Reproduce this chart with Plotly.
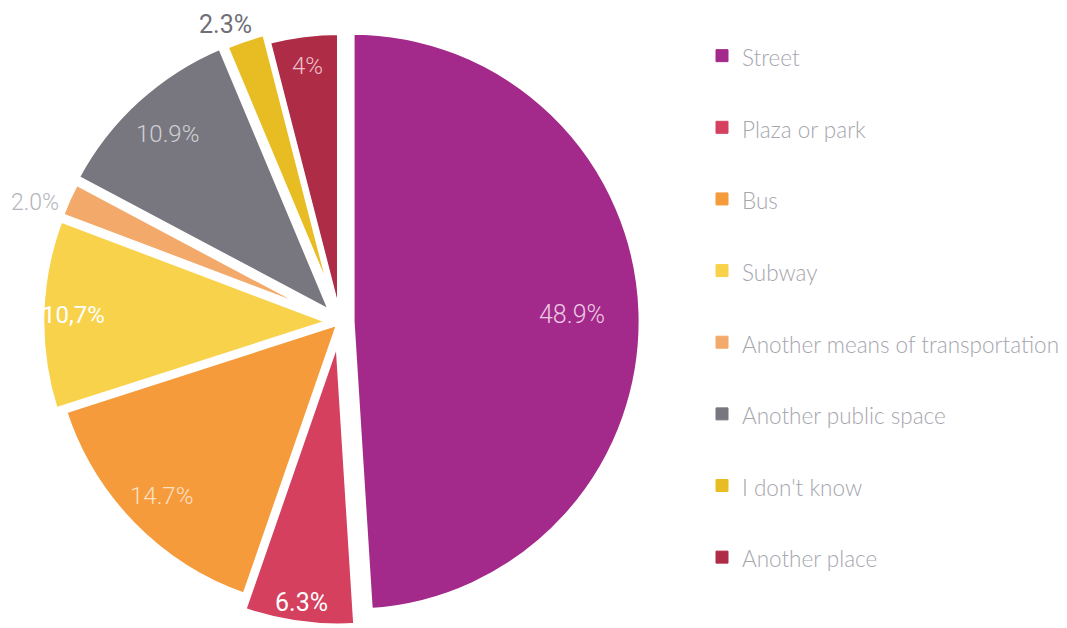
import math
import plotly.graph_objects as go

# Where incidents took place (share of responses, %)
categories = [
    "Street",
    "Plaza or park",
    "Bus",
    "Subway",
    "Another means of transportation",
    "Another public space",
    "I don't know",
    "Another place",
]
shares = [48.9, 6.3, 14.7, 10.7, 2.0, 10.9, 2.3, 4.0]
value_labels = ["48.9%", "6.3%", "14.7%", "10,7%", "2.0%", "10.9%", "2.3%", "4%"]

# Styling
slice_colors = ["#a3298a", "#d4405e", "#f59b3b", "#f9d24b",
                "#f3a96a", "#78777f", "#e8bd23", "#ae2c46"]
slice_pulls = [0.04, 0.05, 0.0, 0.03, 0.03, 0.038, 0.03, 0.0]
gap_width = 6
label_radius = [0.80, 0.975, 0.86, 0.92, 1.13, 0.88, 1.10, 0.89]
label_turn = [0, 0, 0, 0, -3.0, 0, -2.5, 0]   # degrees, nudges outside labels
label_colors = ["#ecc9e4", "#ffffff", "#fbe0c4", "#ffffff",
                "#b4b4bc", "#cfcfd4", "#6f6f78", "#edc0c8"]
label_weights = [300, 400, 300, 400, 300, 300, 400, 300]
label_sizes = [25, 25, 24, 24, 23, 24, 25, 24]

W, H = 1067, 628
CX, CY, R = 340, 322, 290            # pie centre and radius in pixels
box = 2 * R * (1 + max(slice_pulls))  # plotly fits r*(1+maxPull) into the domain
dom_x = [(CX - box / 2) / W, (CX + box / 2) / W]
dom_y = [1 - (CY + box / 2) / H, 1 - (CY - box / 2) / H]

legend_size = 26.4        # sets the row pitch of the legend
legend_text_size = 22.5   # drawn size of the legend text
legend_names = [
    f'<span style="font-size:{legend_text_size}px">{c}</span><br> ' for c in categories
]

common = dict(
    labels=legend_names,
    values=shares,
    sort=False,
    direction="clockwise",
    rotation=0,
    pull=slice_pulls,
    textinfo="none",
    domain=dict(x=dom_x, y=dom_y),
)

fig = go.Figure()
# Coloured slices (also feed the legend swatches)
fig.add_trace(go.Pie(
    **common,
    customdata=categories,
    marker=dict(colors=slice_colors, line=dict(color=slice_colors, width=1)),
    hovertemplate="%{customdata}: %{value}%<extra></extra>",
))
# White separators drawn over the same geometry
fig.add_trace(go.Pie(
    **common,
    marker=dict(colors=["rgba(0,0,0,0)"] * len(shares),
                line=dict(color="white", width=gap_width)),
    hoverinfo="skip",
    showlegend=False,
))

# Percentage labels placed along each slice's bisector
total = sum(shares)
cum = 0.0
annotations = []
for v, txt, rf, turn, col, wt, sz in zip(shares, value_labels, label_radius, label_turn,
                                        label_colors, label_weights, label_sizes):
    mid = math.radians((cum + v / 2) / total * 360 + turn)
    cum += v
    px = CX + rf * R * math.sin(mid)
    py = CY - rf * R * math.cos(mid)
    annotations.append(dict(
        x=px / W, y=1 - py / H, xref="paper", yref="paper",
        xanchor="center", yanchor="middle",
        text=txt, showarrow=False,
        font=dict(family="Roboto, Arial, sans-serif", size=sz, color=col, weight=wt),
    ))

fig.update_layout(
    width=W,
    height=H,
    margin=dict(l=0, r=0, t=0, b=0, autoexpand=False),
    paper_bgcolor="white",
    plot_bgcolor="white",
    annotations=annotations,
    showlegend=True,
    legend=dict(
        x=702 / W, xanchor="left",
        y=1 - 32 / H, yanchor="top",
        valign="top",
        font=dict(family="Lato, Roboto, sans-serif", size=legend_size,
                  color="#a6a6ae", weight=300),
        bgcolor="rgba(0,0,0,0)",
        traceorder="normal",
    ),
)

fig.write_html("out.html")
